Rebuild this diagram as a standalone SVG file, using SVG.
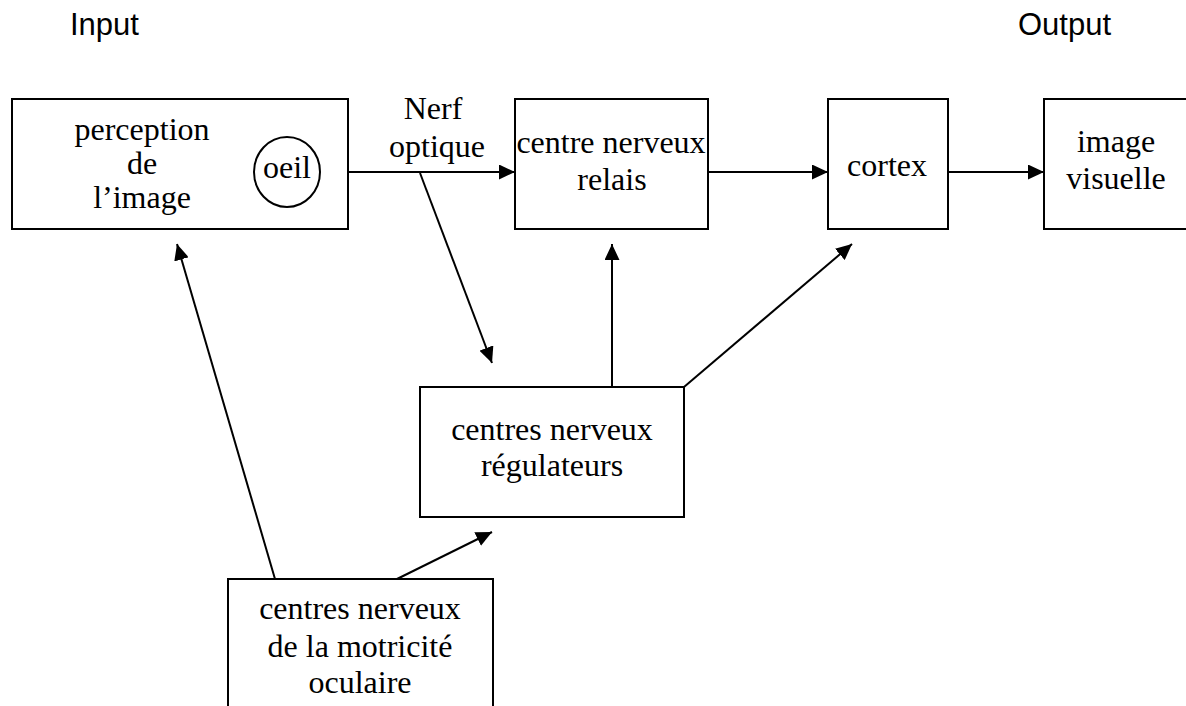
<svg xmlns="http://www.w3.org/2000/svg" width="1186" height="706" viewBox="0 0 1186 706">
<style>
.box{fill:#fff;stroke:#000;stroke-width:2}
.t{font-family:"Liberation Serif","Times New Roman",serif;font-size:32px;fill:#000;text-anchor:middle}
.s{font-family:"Liberation Sans",Arial,sans-serif;font-size:31px;fill:#000}
.c{fill:none;stroke:#000;stroke-width:2}
</style>
<defs>
<marker id="ah" markerUnits="userSpaceOnUse" markerWidth="16" markerHeight="15" refX="16" refY="7.5" orient="auto">
<path d="M0,0 L16,7.5 L0,15 z" fill="#000"/>
</marker>
</defs>
<rect width="1186" height="706" fill="#fff"/>
<g id="labels">
<text class="s" x="70" y="35">Input</text>
<text class="s" x="1018" y="35">Output</text>
</g>
<g id="node-perception">
<rect class="box" x="12" y="99" width="336" height="130"/>
<text class="t" x="142" y="140">perception</text>
<text class="t" x="142" y="174">de</text>
<text class="t" x="142" y="208">l’image</text>
<ellipse class="box" cx="287" cy="172" rx="33" ry="35"/>
<text class="t" x="287" y="178">oeil</text>
</g>
<g id="node-relais">
<rect class="box" x="515" y="99" width="193" height="130"/>
<text class="t" x="611" y="153">centre nerveux</text>
<text class="t" x="612" y="190">relais</text>
</g>
<g id="node-cortex">
<rect class="box" x="828" y="99" width="120" height="130"/>
<text class="t" x="887" y="176">cortex</text>
</g>
<g id="node-image">
<rect class="box" x="1044" y="99" width="160" height="130"/>
<text class="t" x="1116" y="152">image</text>
<text class="t" x="1116" y="189">visuelle</text>
</g>
<g id="node-regulateurs">
<rect class="box" x="420" y="387" width="264" height="130"/>
<text class="t" x="552" y="440">centres nerveux</text>
<text class="t" x="552" y="476">régulateurs</text>
</g>
<g id="node-motricite">
<rect class="box" x="228" y="579" width="265" height="140"/>
<text class="t" x="360" y="619">centres nerveux</text>
<text class="t" x="360" y="657">de la motricité</text>
<text class="t" x="360" y="693">oculaire</text>
</g>
<g id="connectors">
<text class="t" x="433" y="119">Nerf</text>
<text class="t" x="437" y="157">optique</text>
<line class="c" x1="348" y1="172" x2="515" y2="172" marker-end="url(#ah)"/>
<line class="c" x1="708" y1="172" x2="828" y2="172" marker-end="url(#ah)"/>
<line class="c" x1="948" y1="172" x2="1044" y2="172" marker-end="url(#ah)"/>
<line class="c" x1="420" y1="173" x2="492" y2="363" marker-end="url(#ah)"/>
<line class="c" x1="612" y1="387" x2="612" y2="244" marker-end="url(#ah)"/>
<line class="c" x1="684" y1="387" x2="852" y2="244" marker-end="url(#ah)"/>
<line class="c" x1="275" y1="579" x2="177" y2="244" marker-end="url(#ah)"/>
<line class="c" x1="397" y1="579" x2="492" y2="532" marker-end="url(#ah)"/>
</g>
</svg>
